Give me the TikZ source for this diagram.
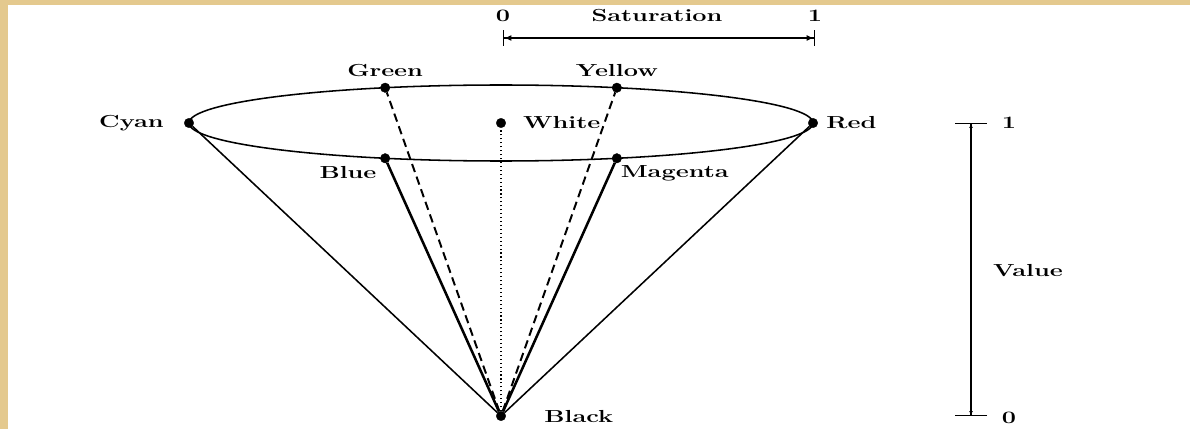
\documentclass[tikz,border=0pt]{standalone}
\usetikzlibrary{positioning,arrows.meta}
\definecolor{parchment}{RGB}{228,201,142}

\begin{document}
\begin{tikzpicture}[x=0.025cm,y=0.025cm,
	vertex/.style={ circle, draw, very thin, fill, inner sep=0pt, minimum size=0.24cm },
	lbl/.style={ inner sep=0pt, font=\fontsize{12.4}{14}\selectfont\bfseries, xscale=1.45 },
	rim/.style={ line width=1.1pt },
	spoke/.style={ line width=1.8pt },
	hidden/.style={ line width=1.4pt, dash pattern=on 6pt off 3.5pt },
	scalebar/.style={ line width=0.9pt, {Bar[width=0.38cm]Latex[length=0.18cm,width=0.15cm]}-{Latex[length=0.18cm,width=0.15cm]Bar[width=0.38cm]} }
]

% background
\useasboundingbox (0,0) rectangle (1190,429);
\fill[parchment] (0,0) rectangle (1190,429);
\fill[white] (8,0) rectangle (1190,424);

\node[vertex] at (501,306) (white) {};
\node[vertex] at (501,13) (black) {};
\draw[rim] (white) ellipse (312 and 38);
\node[vertex] at ([shift={(180:312 and 38)}]white.center) (cyan) {};
\node[vertex] at ([shift={(0:312 and 38)}]white.center) (red) {};
\node[vertex] at ([shift={(111.8:312 and 38)}]white.center) (green) {};
\node[vertex] at ([shift={(68.2:312 and 38)}]white.center) (yellow) {};
\node[vertex] at ([shift={(248.2:312 and 38)}]white.center) (blue) {};
\node[vertex] at ([shift={(291.8:312 and 38)}]white.center) (magenta) {};
\foreach \p in {cyan,red} \draw[rim] (black) to (\p);
\foreach \p in {blue,magenta} \draw[spoke] (black) to (\p);
\foreach \p in {green,yellow} \draw[hidden] (black) to (\p);
\draw[dotted, thick] (black) -- (white);

\node[lbl, left=0.5cm of cyan] {Cyan};
\node[lbl, right=0.2cm of red] {Red};
\node[lbl, right=0.42cm of white] {White};
\node[lbl, right=0.95cm of black] {Black};
\node[lbl, above=0.15cm of green] {Green};
\node[lbl, above=0.15cm of yellow] {Yellow};
\node[lbl, below left=0.1cm and 0.12cm of blue] {Blue};
\node[lbl, below right=0.08cm and 0.0cm of magenta] {Magenta};

% saturation
\coordinate (satl) at (503,391);
\coordinate (satr) at (815,391);
\draw[scalebar] (satl) -- (satr);
\node[lbl] at (503,413) (sat0) {0};
\node[lbl] at (815,413) (sat1) {1};
\node[lbl] at (657,413) (sat) {Saturation};

% value
\coordinate (valt) at (971,306);
\coordinate (valb) at (971,13);
\draw[scalebar, line width=1.4pt, {Bar[width=0.8cm,line width=0.7pt]Latex[length=0.1cm,width=0.1cm]}-{Latex[length=0.1cm,width=0.1cm]Bar[width=0.8cm,line width=0.7pt]}] (valb) -- (valt);
\node[lbl] at (1009,306) (val1) {1};
\node[lbl] at (1009,11) (val0) {0};
\node[lbl] at (1028,158) (val) {Value};

\end{tikzpicture}
\end{document}
